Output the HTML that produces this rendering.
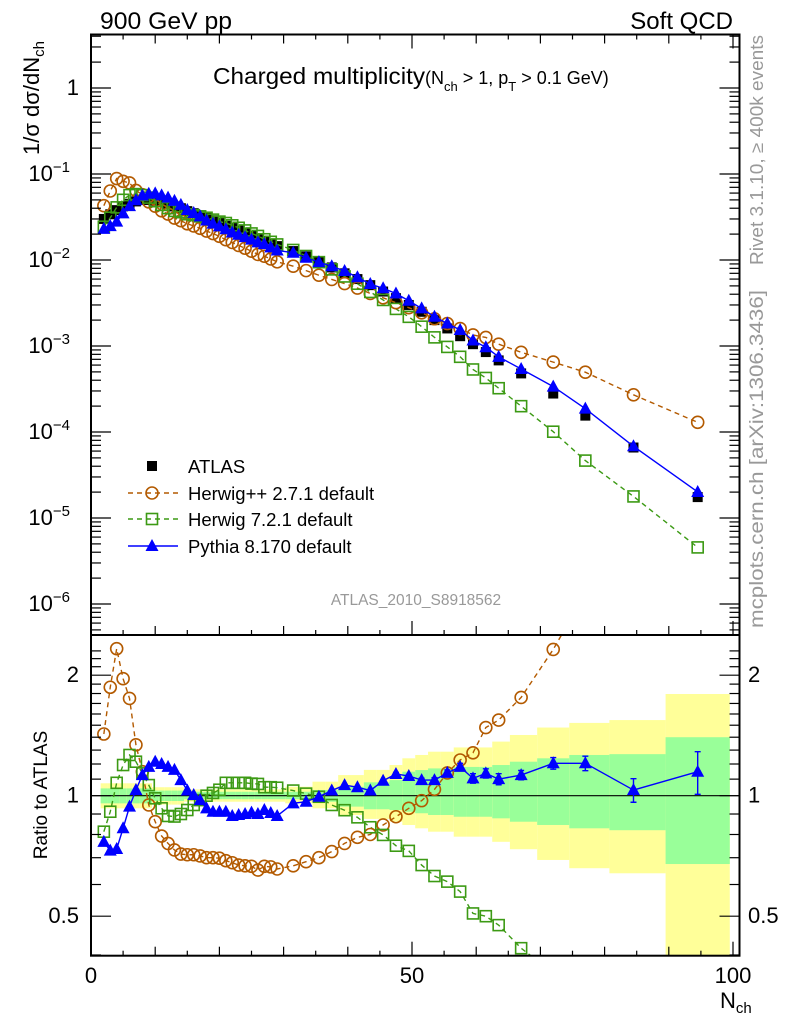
<!DOCTYPE html>
<html><head><meta charset="utf-8"><style>
html,body{margin:0;padding:0;background:#fff}
svg{display:block;font-family:"Liberation Sans",sans-serif}
</style></head><body>
<svg id="chart" width="786" height="1024" viewBox="0 0 786 1024" xmlns="http://www.w3.org/2000/svg">
<defs>
<clipPath id="clipTop"><rect x="91" y="34.5" width="648.5" height="600.5"/></clipPath>
<clipPath id="clipRat"><rect x="91" y="635" width="648.5" height="320.7"/></clipPath>
</defs>
<g id="bands" clip-path="url(#clipRat)"></g>
<g id="ratio" clip-path="url(#clipRat)"></g>
<g id="top" clip-path="url(#clipTop)"></g>
<g id="axes"></g>
<text x="100" y="29" font-size="24" textLength="132" lengthAdjust="spacingAndGlyphs">900 GeV pp</text>
<text x="733" y="29" font-size="24" text-anchor="end">Soft QCD</text>
<text x="213" y="84" font-size="23"><tspan textLength="212" lengthAdjust="spacingAndGlyphs">Charged multiplicity</tspan><tspan font-size="18">(N</tspan><tspan font-size="13" dy="7">ch</tspan><tspan font-size="18" dy="-7"> &gt; 1, p</tspan><tspan font-size="13" dy="7">T</tspan><tspan font-size="18" dy="-7"> &gt; 0.1 GeV)</tspan></text>
<text transform="translate(39,155) rotate(-90)" font-size="22">1/σ dσ/dN<tspan font-size="15" dy="5">ch</tspan></text>
<text transform="translate(47,795) rotate(-90)" font-size="19" text-anchor="middle">Ratio to ATLAS</text>
<text x="720" y="1008" font-size="22">N<tspan font-size="15" dy="5">ch</tspan></text>
<text transform="translate(763,265) rotate(-90)" font-size="18" fill="#999" textLength="230" lengthAdjust="spacingAndGlyphs">Rivet 3.1.10, ≥ 400k events</text>
<text transform="translate(763,628) rotate(-90)" font-size="19" fill="#999" textLength="338" lengthAdjust="spacingAndGlyphs">mcplots.cern.ch [arXiv:1306.3436]</text>
<text x="416" y="605" font-size="15.5" fill="#999" text-anchor="middle">ATLAS_2010_S8918562</text>
<g id="legend"></g>
</svg>
<script>
const nch = [2,3,4,5,6,7,8,9,10,11,12,13,14,15,16,17,18,19,20,21,22,23,24,25,26,27,28,29,
 31.5,33.5,35.5,37.5,39.5,41.5,43.5,45.5,47.5,49.5,51.5,53.5,55.5,57.5,59.5,61.5,63.5,67,72,77,84.5,94.5];
const atlas = [0.030,0.034,0.038,0.042,0.045,0.048,0.050,0.050,0.049,0.047,0.045,0.042,0.040,0.037,0.035,0.033,0.031,0.029,0.027,0.025,0.0235,0.022,0.0205,0.019,0.0178,0.0166,0.0155,0.0145,
 0.0127,0.0110,0.0095,0.0082,0.0070,0.0060,0.0051,0.0043,0.0036,0.0030,0.0025,0.0020,0.0016,0.00130,0.00105,0.00085,0.00068,0.00048,0.00028,0.000155,0.000066,0.0000175];
const ratioHerwigPP = [1.426,1.866,2.33,1.96,1.75,1.34,1.148,0.948,0.861,0.793,0.76,0.732,0.715,0.712,0.712,0.707,0.70,0.70,0.698,0.688,0.68,0.671,0.668,0.666,0.652,0.666,0.664,0.656,
 0.668,0.684,0.70,0.725,0.76,0.787,0.80,0.845,0.886,0.93,0.972,1.037,1.14,1.228,1.28,1.48,1.545,1.76,2.32,3.2,4.1,7.4];
const ratioHerwig7 = [0.813,0.912,1.077,1.193,1.264,1.216,1.137,1.063,0.985,0.93,0.89,0.887,0.9,0.921,0.948,0.975,1.0,1.016,1.035,1.077,1.077,1.077,1.077,1.072,1.07,1.05,1.05,1.047,
 1.03,1.012,0.994,0.948,0.92,0.883,0.834,0.798,0.75,0.728,0.671,0.63,0.61,0.576,0.508,0.50,0.475,0.416,0.36,0.30,0.27,0.26];
const ratioPythia = [0.767,0.729,0.736,0.829,0.939,1.033,1.126,1.18,1.216,1.2,1.18,1.16,1.094,1.03,1.004,0.975,0.93,0.912,0.912,0.912,0.89,0.895,0.9,0.907,0.9,0.921,0.905,0.89,
 0.957,0.966,0.994,1.03,1.063,1.05,1.03,1.09,1.133,1.12,1.094,1.094,1.14,1.18,1.105,1.137,1.1,1.126,1.205,1.205,1.033,1.148];
const pythiaErr = [0,0,0,0,0,0,0,0,0,0,0,0,0,0,0,0,0,0,0,0,0,0,0,0,0,0,0,0,
 0,0,0,0,0,0,0,0,0.01,0.01,0.012,0.015,0.02,0.025,0.03,0.03,0.035,0.03,0.04,0.05,0.07,0.14];
const bandYHi = [1.074,1.074,1.074,1.074,1.074,1.074,1.074,1.074,1.05,1.05,1.05,1.05,1.05,1.037,1.037,1.037,1.037,1.037,1.037,1.037,1.037,1.037,1.037,1.037,1.037,1.037,1.037,1.037,
 1.053,1.053,1.084,1.084,1.126,1.126,1.16,1.16,1.193,1.24,1.264,1.288,1.288,1.32,1.32,1.32,1.365,1.418,1.48,1.52,1.545,1.795];
const bandYLo = [0.93,0.93,0.93,0.93,0.93,0.93,0.93,0.93,0.95,0.95,0.95,0.95,0.95,0.966,0.966,0.966,0.966,0.966,0.966,0.966,0.966,0.966,0.966,0.966,0.966,0.966,0.966,0.966,
 0.957,0.957,0.93,0.93,0.895,0.895,0.875,0.875,0.861,0.845,0.829,0.813,0.813,0.79,0.79,0.79,0.767,0.735,0.691,0.659,0.64,0.3];
const bandGHi = [1.043,1.043,1.043,1.043,1.043,1.043,1.043,1.043,1.03,1.03,1.03,1.03,1.03,1.023,1.023,1.023,1.023,1.023,1.023,1.023,1.023,1.023,1.023,1.023,1.023,1.023,1.023,1.023,
 1.023,1.023,1.033,1.033,1.053,1.053,1.08,1.08,1.094,1.148,1.159,1.17,1.17,1.18,1.18,1.18,1.193,1.216,1.24,1.264,1.27,1.40];
const bandGLo = [0.957,0.957,0.957,0.957,0.957,0.957,0.957,0.957,0.97,0.97,0.97,0.97,0.97,0.98,0.98,0.98,0.98,0.98,0.98,0.98,0.98,0.98,0.98,0.98,0.98,0.98,0.98,0.98,
 0.98,0.98,0.966,0.966,0.939,0.939,0.925,0.925,0.921,0.912,0.904,0.895,0.895,0.886,0.886,0.886,0.878,0.861,0.845,0.829,0.82,0.675];
const xTickLabels = ["0","50","100"];
const yTickLabels = ["1","10","10","10","10","10","10"];
const yTickExps = ["","−1","−2","−3","−4","−5","−6"];
const ratioTickLabels = ["2","1","0.5"];
const ratioTickValues = [2,1,0.5];

const NS="http://www.w3.org/2000/svg";
const X0=91, XS=6.42, XL=91, XR=739.5;
const TY1=88, DEC=86, TT=34.5, TB=635;
const R1=795.7, RS=120.5, RT=635, RB=955.7;
const x = n => X0 + n*XS;
const yTop = v => TY1 - DEC*Math.log10(v);
const yRat = r => R1 - RS*Math.log2(r);
const ORANGE="#b35a00", GREEN="#3c9a14", BLUE="#0000ff";
function mk(parent,tag,attrs){const e=document.createElementNS(NS,tag);for(const k in attrs)e.setAttribute(k,attrs[k]);parent.appendChild(e);return e;}
const gTop=document.getElementById('top'), gRat=document.getElementById('ratio'), gBand=document.getElementById('bands'), gAx=document.getElementById('axes'), gLeg=document.getElementById('legend');

function edges(i){
  const lo = i===0 ? nch[0]-0.5 : (nch[i-1]+nch[i])/2;
  const hi = i===nch.length-1 ? nch[i]+(nch[i]-lo) : (nch[i]+nch[i+1])/2;
  return [lo,hi];
}
nch.forEach((n,i)=>{
  const [lo,hi]=edges(i);
  let r=mk(gBand,'rect',{x:x(lo),width:x(hi)-x(lo),y:yRat(bandYHi[i]),height:yRat(bandYLo[i])-yRat(bandYHi[i]),fill:'#ffff99'});
  
  
  r=mk(gBand,'rect',{x:x(lo),width:x(hi)-x(lo),y:yRat(bandGHi[i]),height:yRat(bandGLo[i])-yRat(bandGHi[i]),fill:'#99ff99'});
  
  
});
let one=mk(gRat,'line',{x1:XL,x2:XR,y1:yRat(1),y2:yRat(1),stroke:'#000','stroke-width':1.2});



function circle(g,cx,cy,name){const c=mk(g,'circle',{cx:cx,cy:cy,r:6,fill:'none',stroke:ORANGE,'stroke-width':1.6});}
function square(g,cx,cy,name){const s=mk(g,'rect',{x:cx-5.5,y:cy-5.5,width:11,height:11,fill:'none',stroke:GREEN,'stroke-width':1.6});}
function tri(g,cx,cy,name){const t=mk(g,'polygon',{points:`${cx},${cy-7} ${cx-6.5},${cy+5} ${cx+6.5},${cy+5}`,fill:BLUE});}
function blk(g,cx,cy,name){const s=mk(g,'rect',{x:cx-5,y:cy-5,width:10,height:10,fill:'#000'});}
function poly(g,pts,color,dash,name){const p=mk(g,'polyline',{points:pts.map(p=>p.join(',')).join(' '),fill:'none',stroke:color,'stroke-width':1.4});if(dash)p.setAttribute('stroke-dasharray',dash);}

const hppTop = nch.map((n,i)=>[x(n),yTop(atlas[i]*ratioHerwigPP[i])]);
const h7Top = nch.map((n,i)=>[x(n),yTop(atlas[i]*ratioHerwig7[i])]);
const pyTop = nch.map((n,i)=>[x(n),yTop(atlas[i]*ratioPythia[i])]);
nch.forEach((n,i)=>blk(gTop,x(n),yTop(atlas[i]),'atlas-point'));
poly(gTop,hppTop,ORANGE,'5,4','herwigpp-line');
poly(gTop,h7Top,GREEN,'5,4','herwig7-line');
hppTop.forEach(p=>circle(gTop,p[0],p[1],'herwigpp-point'));
h7Top.forEach(p=>square(gTop,p[0],p[1],'herwig7-point'));
poly(gTop,pyTop,BLUE,null,'pythia-line');
pyTop.forEach(p=>tri(gTop,p[0],p[1],'pythia-point'));

const hppR = nch.map((n,i)=>[x(n),yRat(ratioHerwigPP[i])]);
const h7R = nch.map((n,i)=>[x(n),yRat(ratioHerwig7[i])]);
const pyR = nch.map((n,i)=>[x(n),yRat(ratioPythia[i])]);
poly(gRat,hppR,ORANGE,'5,4','herwigpp-ratio-line');
poly(gRat,h7R,GREEN,'5,4','herwig7-ratio-line');
hppR.forEach(p=>circle(gRat,p[0],p[1],'herwigpp-ratio-point'));
h7R.forEach(p=>square(gRat,p[0],p[1],'herwig7-ratio-point'));
poly(gRat,pyR,BLUE,null,'pythia-ratio-line');
nch.forEach((n,i)=>{
  if(pythiaErr[i]>0){
    const cx=x(n), y1=yRat(ratioPythia[i]+pythiaErr[i]), y2=yRat(ratioPythia[i]-pythiaErr[i]);
    const e=mk(gRat,'path',{d:`M${cx},${y1}V${y2}M${cx-3},${y1}H${cx+3}M${cx-3},${y2}H${cx+3}`,stroke:BLUE,'stroke-width':1.4,fill:'none'});
    
    
  }
});
pyR.forEach(p=>tri(gRat,p[0],p[1],'pythia-ratio-point'));

function line(x1,y1,x2,y2,w,name){const l=mk(gAx,'line',{x1:x1,y1:y1,x2:x2,y2:y2,stroke:'#000','stroke-width':w||1.2});}
function frame(t,b,name){const r=mk(gAx,'rect',{x:XL,y:t,width:XR-XL,height:b-t,fill:'none',stroke:'#000','stroke-width':2});}
frame(TT,TB,'main-frame'); frame(RT,RB,'ratio-frame');
for(let v=0;v<=100;v+=5){
  const len = v%50===0?14:(v%10===0?9:5);
  const xx=x(v);
  [[TB,-1],[RB,-1],[TT,1]].forEach(([yb,dir])=>line(xx,yb,xx,yb+dir*len,1.2,'x-tick'));
}
xTickLabels.forEach((l,i)=>{const t=mk(gAx,'text',{x:x(i*50),y:983,'font-size':22,'text-anchor':'middle'});t.textContent=l;});
for(let e=-7;e<=0;e++){
  for(let m=1;m<=9;m++){
    const v=m*Math.pow(10,e), yy=yTop(v);
    if(yy<TT||yy>TB)continue;
    const len=m===1?20:10;
    line(XL,yy,XL+len,yy,1.2,'y-tick'); line(XR,yy,XR-len,yy,1.2,'y-tick');
  }
}
yTickLabels.forEach((l,i)=>{
  const yy=yTop(Math.pow(10,-i));
  const t=mk(gAx,'text',{x:i===0?79:70,y:yy+7,'font-size':22,'text-anchor':'end'});
  t.textContent=l;
  
  
  if(yTickExps[i]){const s=mk(t,'tspan',{'font-size':15,dy:-9});s.textContent=yTickExps[i];}
});
[0.4,0.5,0.6,0.7,0.8,0.9,1,1.1,1.2,1.3,1.4,1.5,1.6,1.7,1.8,1.9,2,2.1,2.2,2.3].forEach(v=>{
  const yy=yRat(v); if(yy<RT||yy>RB)return;
  const len=(v===0.5||v===1||v===2)?20:10;
  line(XL,yy,XL+len,yy,1.2,'ratio-tick'); line(XR,yy,XR-len,yy,1.2,'ratio-tick');
});
ratioTickLabels.forEach((l,i)=>{
  const yy=yRat(ratioTickValues[i])+7;
  let t=mk(gAx,'text',{x:79,y:yy,'font-size':22,'text-anchor':'end'});t.textContent=l;
  
  t=mk(gAx,'text',{x:748,y:yy,'font-size':22});t.textContent=l;
  
});

const legNames=["ATLAS","Herwig++ 2.7.1 default","Herwig 7.2.1 default","Pythia 8.170 default"];
const legY=[466,493,519,546];
legNames.forEach((nm,i)=>{
  const yy=legY[i];
  if(i===1){poly(gLeg,[[128,yy],[178,yy]],ORANGE,'5,4','legend-line');circle(gLeg,152,yy,'legend-marker');}
  if(i===2){poly(gLeg,[[128,yy],[178,yy]],GREEN,'5,4','legend-line');square(gLeg,152,yy,'legend-marker');}
  if(i===3){poly(gLeg,[[128,yy],[178,yy]],BLUE,null,'legend-line');tri(gLeg,152,yy,'legend-marker');}
  if(i===0){blk(gLeg,152,yy,'legend-marker');}
  const t=mk(gLeg,'text',{x:188,y:yy+7,'font-size':18.5});t.textContent=nm;
  
});
</script>
</body></html>
